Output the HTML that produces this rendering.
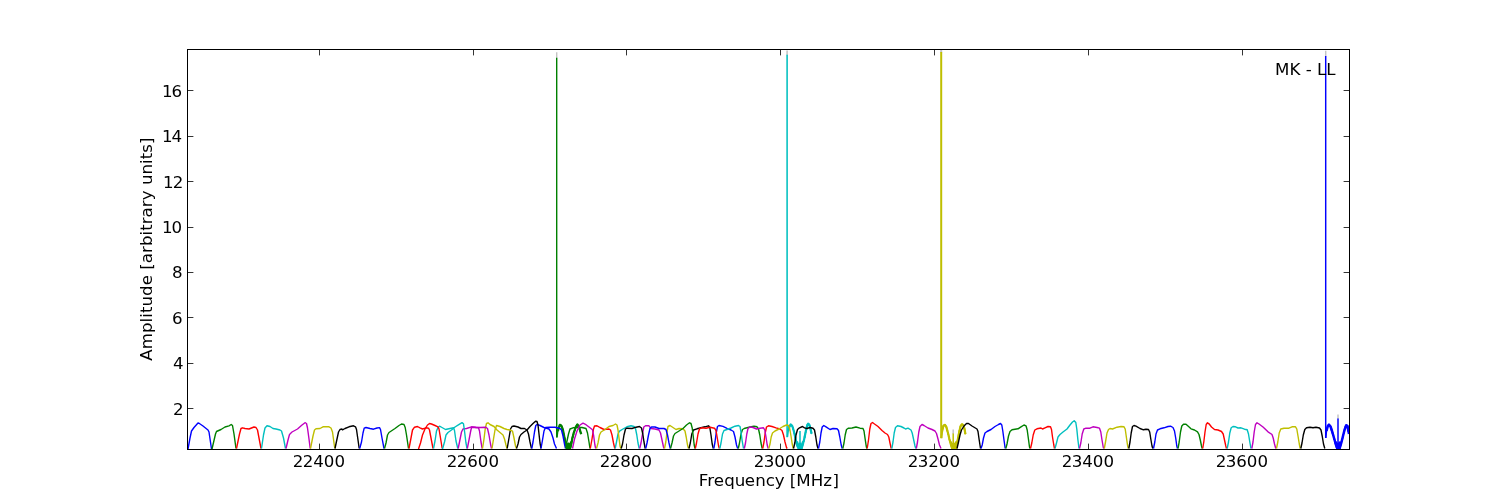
<!DOCTYPE html>
<html lang="en"><head><meta charset="utf-8"><title>MK - LL spectrum</title>
<style>html,body{margin:0;padding:0;background:#fff}body{width:1500px;height:500px;overflow:hidden}svg{display:block;will-change:transform}text{font-family:"DejaVu Sans","Liberation Sans",sans-serif;font-size:16.667px;fill:#000}</style></head><body>
<svg width="1500" height="500" viewBox="0 0 1500 500">
<rect x="0" y="0" width="1500" height="500" fill="#ffffff"/>
<defs><clipPath id="ax"><rect x="187.5" y="49.5" width="1162" height="400"/></clipPath></defs>
<g clip-path="url(#ax)" fill="none" stroke-linejoin="round" stroke-linecap="butt">
<polyline stroke="#0000ff" stroke-width="1.4" points="188.0,449.0 190.0,438.0 191.5,431.0 194.0,427.5 198.0,423.0 199.0,423.2 203.0,426.0 208.0,430.0 209.0,432.0 211.5,449.0"/>
<polyline stroke="#008000" stroke-width="1.4" points="212.0,449.0 215.5,434.0 216.5,431.5 221.0,429.5 225.0,427.0 229.0,425.8 231.2,424.5 232.5,425.5 234.0,434.0 236.0,448.5"/>
<polyline stroke="#ff0000" stroke-width="1.4" points="236.5,448.5 239.5,434.0 241.0,428.5 242.5,427.8 245.0,428.5 249.0,429.0 254.0,427.0 256.0,427.5 257.5,430.0 259.0,438.0 261.0,448.5"/>
<polyline stroke="#00bfbf" stroke-width="1.4" points="261.5,448.5 263.5,435.0 265.0,428.0 267.0,425.8 270.0,426.5 273.0,428.5 276.0,429.0 280.0,430.0 281.5,431.0 283.5,438.0 285.5,448.5"/>
<polyline stroke="#bf00bf" stroke-width="1.4" points="286.0,448.5 288.0,440.0 289.5,434.5 292.0,432.0 297.5,429.0 302.0,425.0 305.0,422.7 306.5,423.5 307.5,428.0 309.0,439.0 310.2,448.5"/>
<polyline stroke="#bfbf00" stroke-width="1.4" points="310.5,448.5 313.0,436.0 314.5,430.0 316.0,428.8 320.0,428.5 323.0,426.8 329.0,426.8 331.0,428.0 332.5,432.0 334.0,443.0 334.8,448.5"/>
<polyline stroke="#000000" stroke-width="1.4" points="335.0,448.5 337.0,439.0 338.5,432.0 340.0,429.5 342.0,429.0 342.5,429.8 345.0,428.5 349.0,426.8 353.5,425.8 355.5,426.8 356.5,429.5 358.0,440.0 359.2,448.5"/>
<polyline stroke="#0000ff" stroke-width="1.4" points="359.7,448.5 361.5,442.0 363.0,433.0 364.2,428.2 366.0,427.5 370.0,428.5 373.5,429.2 377.0,428.0 379.5,427.6 380.5,429.5 382.0,438.0 384.0,448.5"/>
<polyline stroke="#008000" stroke-width="1.4" points="384.5,448.5 386.0,443.0 387.5,435.0 389.0,432.5 392.0,430.5 395.0,428.5 399.0,425.5 401.5,424.0 404.0,424.5 405.2,427.5 406.5,435.0 408.5,448.5"/>
<polyline stroke="#ff0000" stroke-width="1.4" points="409.0,448.5 411.0,438.0 412.5,430.0 414.5,427.2 417.5,426.5 420.0,427.8 422.5,429.0 426.0,427.8 428.5,428.2 429.5,430.0 431.0,438.0 433.0,448.5"/>
<polyline stroke="#00bfbf" stroke-width="1.4" points="433.5,448.5 435.0,441.0 436.5,431.0 438.0,427.5 439.5,426.2 442.0,427.5 445.5,429.5 450.0,428.5 453.5,427.8 454.5,430.5 456.0,441.0 457.8,448.5"/>
<polyline stroke="#bf00bf" stroke-width="1.4" points="458.2,448.5 460.0,439.5 461.5,432.0 463.0,429.0 466.5,428.5 471.5,426.8 476.0,427.5 478.5,427.8 479.5,431.0 481.0,442.0 482.2,448.5"/>
<polyline stroke="#bfbf00" stroke-width="1.4" points="482.5,448.5 484.0,439.0 485.2,429.0 486.5,423.5 488.0,422.8 490.0,424.5 494.0,426.5 497.0,430.0 500.0,432.5 503.0,435.0 504.5,439.0 506.0,445.0 507.0,448.5"/>
<polyline stroke="#000000" stroke-width="1.4" points="507.2,448.5 509.0,438.0 510.5,429.0 512.0,426.5 514.0,426.0 518.0,427.0 521.0,428.5 524.5,428.5 527.0,430.0 528.5,434.0 530.0,442.0 531.5,448.5"/>
<polyline stroke="#0000ff" stroke-width="1.4" points="531.8,448.5 533.0,442.0 534.5,432.0 535.8,425.5 537.0,424.5 540.0,425.5 544.0,427.5 549.0,429.0 551.0,432.0 553.0,438.0 554.5,444.0 556.5,448.5"/>
<polyline stroke="#c4c4c4" stroke-width="1.4" points="556.7,52.3 556.7,58.2"/>
<polyline stroke="#008000" stroke-width="1.4" points="556.7,57.7 556.7,437.6"/>
<polyline stroke="#008000" stroke-width="1.4" points="557.0,437.4 557.8,431.0"/>
<polyline stroke="#008000" stroke-width="2.2" points="557.8,431.0 559.8,424.8 561.4,425.8 563.0,430.2 564.6,438.2 566.0,445.4 567.2,448.6 567.9,444.8 568.6,448.6 569.3,444.8 570.0,448.6 571.0,445.4 572.2,439.0 573.8,432.6 575.8,427.0 577.4,424.4 579.0,427.0 580.2,431.0 581.2,434.2"/>
<polyline stroke="#008000" stroke-width="1.0" points="558.3,431.2 557.3,430.3 558.7,430.3 557.8,429.4 559.0,429.3 557.8,428.4 559.3,428.3 558.4,427.5 559.7,427.4 558.7,426.5 559.9,426.4 558.9,425.6 560.4,425.5 560.1,424.3 559.9,425.8 561.2,424.9 560.9,426.0 562.3,426.0 561.3,427.0 562.7,427.0 561.5,428.0 563.1,428.0 561.9,428.9 563.3,429.0 562.4,429.9 563.8,430.0 562.4,430.8 564.0,431.0 562.8,431.8 564.0,432.1 562.7,432.9 564.1,433.1 563.1,433.8 564.5,434.1 563.4,434.8 564.8,435.0 563.3,435.9 564.9,436.1 563.8,436.8 565.0,437.1 563.8,437.8 565.4,438.1 564.0,438.9 565.6,439.1 564.4,439.8 565.8,440.1 564.5,440.9 565.9,441.2 564.6,441.9 565.9,442.2 564.8,443.0 566.1,443.2 565.0,444.0 566.3,444.3 565.4,445.0 566.6,445.2 565.7,446.1 566.9,446.3 565.9,447.2 567.3,447.4 566.2,448.4 566.6,448.5 567.8,448.2 566.6,447.4 568.1,447.1 566.8,446.3 568.3,446.0 567.0,445.2 567.1,444.9 568.7,445.2 567.6,446.0 568.8,446.3 567.6,447.1 569.1,447.4 567.9,448.2 567.9,448.5 569.3,448.2 568.0,447.4 569.4,447.1 568.2,446.3 569.9,446.0 568.7,445.2 568.8,444.9 570.1,445.2 569.0,446.0 570.2,446.3 569.2,447.1 570.3,447.4 569.2,448.2 569.4,448.4 570.8,448.3 569.7,447.3 571.2,447.2 570.2,446.3 571.5,446.1 570.5,445.3 571.6,445.0 570.4,444.3 571.8,444.0 570.5,443.3 572.2,443.1 571.0,442.3 572.2,442.1 571.1,441.3 572.6,441.1 571.4,440.4 572.7,440.1 571.4,439.4 573.0,439.2 571.6,438.3 573.0,438.2 571.8,437.3 573.5,437.2 572.0,436.3 573.6,436.2 572.5,435.4 573.8,435.2 572.7,434.4 574.2,434.3 573.1,433.5 574.2,433.2 573.1,432.4 574.7,432.3 573.6,431.4 575.1,431.4 574.0,430.4 575.5,430.3 574.2,429.3 575.9,429.3 574.5,428.2 575.9,428.2 575.1,427.3 576.3,427.3 575.6,426.3 577.0,426.5 576.0,425.3 577.4,425.6 576.5,424.4 576.8,424.8 578.1,424.6 577.5,425.5 578.9,425.3 577.9,426.5 579.2,426.3 578.4,427.2 579.9,427.3 578.6,428.2 580.2,428.3 579.1,429.1 580.4,429.3 579.4,430.2 580.9,430.3 579.4,431.2 581.1,431.3 579.9,432.3 581.3,432.4 580.4,433.3 581.6,433.5 581.2,434.2"/>
<polyline stroke="#008000" stroke-width="2.2" points="565.7,441.5 568.0,448.6 568.5,443.5 569.0,448.6 571.3,441.5"/>
<polyline stroke="#ff0000" stroke-width="1.4" points="418.5,449.0 420.5,443.0 422.5,435.0 425.0,429.0 427.5,425.0 429.5,423.5 431.5,424.0 435.0,425.5 438.0,426.8 439.0,429.0 440.5,438.0 442.2,448.5"/>
<polyline stroke="#00bfbf" stroke-width="1.4" points="442.5,449.0 444.5,442.0 446.0,435.0 448.0,432.5 451.5,430.0 455.0,427.0 459.2,424.3 462.0,422.6 463.5,423.8 464.5,431.0 465.9,442.5 467.0,448.5"/>
<polyline stroke="#bf00bf" stroke-width="1.4" points="467.3,448.5 469.0,440.0 470.5,432.0 471.5,427.5 474.0,427.2 480.0,427.5 485.5,427.2 487.5,428.5 489.0,435.0 490.5,444.0 491.5,448.5"/>
<polyline stroke="#bfbf00" stroke-width="1.4" points="492.0,448.5 493.5,439.0 495.0,430.0 496.5,425.5 500.0,426.5 504.0,428.5 507.0,429.5 510.0,430.0 512.5,431.2 514.0,438.0 515.5,446.0 516.5,448.5"/>
<polyline stroke="#000000" stroke-width="1.4" points="516.5,448.5 518.0,444.0 519.5,437.0 521.0,434.5 524.0,432.0 527.0,430.0 530.0,426.5 533.0,423.5 535.5,421.2 537.0,421.5 538.0,425.0 539.0,434.0 540.0,443.0 541.0,448.5"/>
<polyline stroke="#0000ff" stroke-width="1.4" points="541.0,448.5 542.5,440.0 544.0,431.0 545.5,427.5 550.0,427.2 555.0,427.2 560.0,428.5 561.5,430.0 563.0,436.0 564.5,444.0 565.5,448.5"/>
<polyline stroke="#008000" stroke-width="1.4" points="565.8,448.5 567.0,441.0 568.5,434.0 570.0,429.0 573.0,427.8 577.0,427.5 582.0,427.5 586.0,428.5 587.5,433.0 589.0,442.0 590.0,448.5"/>
<polyline stroke="#ff0000" stroke-width="1.4" points="590.3,448.5 592.0,439.0 593.5,429.0 594.5,426.0 597.0,425.8 600.0,427.5 604.0,429.5 609.0,429.0 610.5,430.0 612.0,435.0 613.5,443.0 614.8,448.5"/>
<polyline stroke="#00bfbf" stroke-width="1.4" points="615.2,448.5 616.5,442.0 618.0,434.0 619.5,431.2 623.0,429.0 627.0,426.8 631.0,425.8 634.0,426.5 635.5,428.5 636.8,435.0 638.0,443.0 639.2,448.5"/>
<polyline stroke="#bf00bf" stroke-width="1.4" points="639.7,448.5 641.0,443.0 642.5,434.0 643.8,427.0 645.5,425.8 649.0,425.8 651.0,428.5 655.0,429.0 659.0,430.0 660.5,433.0 662.0,440.0 663.5,447.0 664.0,448.5"/>
<polyline stroke="#bfbf00" stroke-width="1.4" points="664.5,448.5 665.8,442.0 667.0,432.0 668.0,426.5 670.0,425.5 673.0,427.5 676.0,429.5 679.0,428.5 683.0,428.8 685.0,431.0 686.2,437.0 687.5,445.0 688.5,448.5"/>
<polyline stroke="#000000" stroke-width="1.4" points="689.0,448.5 690.3,443.0 691.8,434.0 693.5,430.0 697.0,428.8 701.0,427.8 705.0,426.8 708.5,425.8 709.8,427.5 711.0,435.0 712.2,444.0 713.3,448.5"/>
<polyline stroke="#0000ff" stroke-width="1.4" points="713.8,448.5 715.0,442.0 716.2,433.0 717.5,426.5 719.0,425.5 723.0,426.4 727.0,428.3 731.0,430.0 733.5,431.5 735.0,437.0 736.5,445.0 737.7,448.5"/>
<polyline stroke="#008000" stroke-width="1.4" points="738.3,448.5 739.5,443.0 741.0,434.0 742.5,429.5 745.0,428.2 750.0,427.0 754.0,426.2 757.0,426.8 758.5,429.0 759.8,435.0 761.0,443.0 762.2,448.5"/>
<polyline stroke="#ff0000" stroke-width="1.4" points="762.7,448.5 764.0,442.0 765.2,433.0 766.5,427.0 768.5,425.8 772.0,426.5 776.0,427.8 780.0,429.0 782.0,430.5 783.5,435.0 785.0,442.0 786.5,447.5 787.2,448.5"/>
<polyline stroke="#c4c4c4" stroke-width="1.55" points="787.1,50.5 787.1,55.2"/>
<polyline stroke="#00bfbf" stroke-width="1.55" points="787.1,54.7 787.1,437.2"/>
<polyline stroke="#00bfbf" stroke-width="1.55" points="787.4,437.0 788.2,431.0"/>
<polyline stroke="#00bfbf" stroke-width="2.2" points="788.2,431.0 789.2,427.0 790.6,424.4 792.4,426.2 794.0,431.8 795.6,439.0 797.2,445.4 798.4,448.4 799.2,445.0 800.0,448.4 800.8,445.0 801.6,448.4 802.8,444.6 804.4,438.2 806.0,430.2 807.2,425.4 808.2,423.6 809.6,425.4 810.8,430.2 811.6,433.8"/>
<polyline stroke="#00bfbf" stroke-width="1.0" points="789.0,431.2 787.9,430.4 789.2,430.2 787.9,429.3 789.3,429.2 788.0,428.3 789.6,428.2 788.3,427.3 789.8,427.3 788.9,426.2 790.4,426.3 789.6,425.2 790.8,425.2 791.0,424.0 790.4,425.3 791.8,424.7 791.3,425.9 792.5,425.4 791.7,426.4 793.0,426.6 792.1,427.4 793.6,427.5 792.2,428.5 793.8,428.6 792.5,429.5 794.0,429.6 793.0,430.4 794.2,430.6 793.2,431.5 794.8,431.6 793.5,432.5 794.9,432.7 793.7,433.5 795.3,433.7 794.1,434.5 795.4,434.7 794.0,435.6 795.4,435.8 794.3,436.6 795.8,436.8 794.6,437.6 796.1,437.8 795.0,438.6 796.3,438.8 794.9,439.7 796.3,439.9 795.1,440.7 796.7,440.8 795.5,441.6 796.9,441.8 795.8,442.6 797.3,442.8 795.9,443.6 797.4,443.8 796.4,444.6 797.6,444.8 796.6,445.6 798.0,445.7 797.1,446.6 798.4,446.6 797.5,447.6 798.9,447.6 798.9,448.5 797.9,447.7 799.4,447.4 798.0,446.5 799.4,446.2 798.5,445.4 798.7,445.1 800.1,445.4 798.7,446.3 800.2,446.6 798.9,447.5 800.3,447.7 800.5,448.5 799.4,447.7 800.7,447.4 799.9,446.6 801.3,446.3 799.9,445.4 800.0,445.2 801.6,445.4 800.4,446.3 801.9,446.5 800.6,447.4 802.0,447.7 802.3,448.6 801.1,447.7 802.6,447.5 801.5,446.6 802.9,446.4 801.7,445.5 803.2,445.3 802.2,444.4 803.4,444.2 802.4,443.5 803.7,443.3 802.6,442.5 804.0,442.3 802.9,441.5 804.4,441.3 803.1,440.5 804.5,440.3 803.2,439.5 804.8,439.4 803.7,438.6 805.0,438.3 803.9,437.6 805.4,437.4 803.9,436.5 805.6,436.4 804.2,435.6 805.7,435.3 804.4,434.6 805.8,434.3 804.8,433.6 806.0,433.3 804.9,432.6 806.3,432.3 805.1,431.6 806.4,431.3 805.2,430.6 806.8,430.4 805.3,429.5 807.1,429.3 805.9,428.5 807.1,428.2 805.9,427.4 807.3,427.1 806.3,426.3 807.7,426.1 806.6,425.1 808.0,425.2 807.1,424.2 808.4,424.3 808.8,423.2 807.9,424.6 809.5,424.0 808.7,425.3 810.2,425.2 809.2,426.1 810.6,426.3 809.2,427.2 810.7,427.4 809.5,428.3 811.1,428.4 809.9,429.3 811.4,429.5 810.0,430.4 811.6,430.6 810.6,431.3 812.0,431.6 810.7,432.4 812.1,432.6 810.8,433.4 811.6,433.8"/>
<polyline stroke="#00bfbf" stroke-width="2.2" points="796.9,441.5 799.5,448.6 800.0,443.5 800.5,448.6 803.1,441.5"/>
<polyline stroke="#00bfbf" stroke-width="1.5" points="800.0,431.0 800.0,448.5"/>
<polyline stroke="#bf00bf" stroke-width="1.4" points="572.5,448.5 574.5,439.0 577.0,431.0 580.0,425.0 583.0,423.2 586.0,424.7 590.0,427.8 592.5,429.8 593.7,436.0 594.9,445.0 595.7,448.5"/>
<polyline stroke="#bfbf00" stroke-width="1.4" points="596.5,448.5 598.0,443.0 599.5,435.0 601.0,432.0 605.0,429.5 609.0,426.5 613.0,425.5 615.5,424.0 617.0,425.0 618.0,430.0 619.0,438.0 620.0,446.0 620.8,448.5"/>
<polyline stroke="#000000" stroke-width="1.4" points="621.2,448.5 622.5,444.0 624.0,435.0 625.5,429.0 627.0,428.2 632.0,428.5 636.0,427.2 639.5,426.5 641.5,428.0 642.8,434.0 644.0,442.0 645.2,448.5"/>
<polyline stroke="#0000ff" stroke-width="1.4" points="645.7,448.5 647.0,443.0 648.5,435.0 650.0,428.5 651.5,427.0 655.0,427.0 659.0,428.5 664.0,428.5 666.0,429.5 667.5,435.0 669.0,443.0 670.3,448.5"/>
<polyline stroke="#008000" stroke-width="1.4" points="670.5,448.5 672.0,443.0 673.5,436.0 675.0,433.5 679.0,431.0 683.0,428.5 686.5,425.0 689.5,422.8 691.0,423.5 692.2,428.0 693.2,436.0 694.2,445.0 695.0,448.5"/>
<polyline stroke="#ff0000" stroke-width="1.4" points="695.3,448.5 696.5,443.0 698.0,434.0 699.5,428.8 701.5,427.8 706.0,428.2 710.0,427.2 714.5,428.2 716.0,430.5 717.2,437.5 718.5,445.5 719.3,448.5"/>
<polyline stroke="#00bfbf" stroke-width="1.4" points="719.8,448.5 721.0,443.0 722.5,434.0 724.0,430.5 727.0,429.5 731.0,428.0 735.0,426.2 738.5,425.5 740.0,426.5 741.0,432.0 742.2,441.0 743.5,448.5"/>
<polyline stroke="#bf00bf" stroke-width="1.4" points="744.3,448.5 745.5,443.0 746.8,434.0 748.0,428.5 750.0,427.0 753.0,427.5 756.5,429.0 760.0,428.2 763.5,427.8 764.8,430.0 766.0,437.0 767.2,445.0 768.2,448.5"/>
<polyline stroke="#bfbf00" stroke-width="1.4" points="768.8,448.5 770.0,444.0 771.2,437.0 772.5,433.0 775.0,431.0 779.0,429.0 783.0,426.5 786.5,425.0 788.5,425.5 789.8,429.0 791.0,436.0 792.2,444.0 793.2,448.5"/>
<polyline stroke="#000000" stroke-width="1.4" points="793.5,448.5 794.8,443.0 796.0,435.0 797.5,429.5 799.5,427.8 802.5,426.5 804.5,427.8 807.0,428.5 810.0,427.5 813.0,428.2 814.5,430.0 815.8,437.0 817.0,445.0 818.0,448.5"/>
<polyline stroke="#0000ff" stroke-width="1.4" points="818.5,448.5 819.8,442.0 821.0,433.0 822.2,427.0 823.8,425.5 826.0,426.8 830.0,429.5 833.0,428.5 837.0,428.8 838.5,430.5 839.8,437.0 841.2,445.0 842.2,448.5"/>
<polyline stroke="#008000" stroke-width="1.4" points="842.8,448.5 844.0,443.0 845.2,435.0 846.5,429.5 848.5,428.2 852.0,428.0 856.0,427.0 860.0,428.2 863.0,428.5 864.0,431.0 865.0,438.0 866.2,446.0 866.8,448.5"/>
<polyline stroke="#ff0000" stroke-width="1.4" points="867.2,448.5 868.5,440.0 869.8,429.0 871.0,423.5 872.5,422.5 874.5,424.0 878.0,426.5 882.0,430.5 885.0,433.0 887.5,434.5 888.8,437.0 890.0,443.0 891.2,448.5"/>
<polyline stroke="#00bfbf" stroke-width="1.4" points="891.8,448.5 893.0,442.0 894.2,433.0 895.5,427.5 897.5,425.8 901.0,426.5 904.0,428.0 905.5,429.0 908.0,428.2 911.0,430.0 912.2,433.0 913.5,439.0 915.0,446.0 915.8,448.5"/>
<polyline stroke="#bf00bf" stroke-width="1.4" points="916.3,448.5 917.5,442.0 918.8,432.0 920.0,426.5 922.0,424.5 924.0,425.5 928.0,428.0 932.0,429.5 935.0,431.0 936.5,433.5 938.0,439.0 939.5,445.0 941.0,448.5"/>
<polyline stroke="#c4c4c4" stroke-width="2.0" points="941.2,50.0 941.2,52.5"/>
<polyline stroke="#bfbf00" stroke-width="2.0" points="941.2,52.0 941.2,438.2"/>
<polyline stroke="#bfbf00" stroke-width="2.0" points="941.4,438.2 942.2,431.0"/>
<polyline stroke="#bfbf00" stroke-width="2.2" points="942.2,431.0 943.4,425.8 944.8,424.8 946.2,426.6 947.8,432.2 949.4,439.0 951.0,445.0 952.2,448.4 953.0,445.0 954.0,448.4 955.0,445.0 955.8,448.4 957.0,443.8 958.2,437.4 959.4,431.0 960.6,426.2 962.0,424.2 963.4,425.4 964.6,429.4 965.4,434.2"/>
<polyline stroke="#bfbf00" stroke-width="1.0" points="942.8,431.1 941.7,430.3 943.0,430.1 941.8,429.3 943.2,429.0 942.1,428.2 943.7,428.1 942.4,427.2 943.7,427.0 942.5,426.2 943.8,426.4 943.4,424.8 944.7,425.7 945.4,424.3 944.5,425.7 946.1,425.3 945.3,426.5 946.9,426.4 945.7,427.3 947.2,427.4 946.0,428.3 947.5,428.4 946.4,429.3 947.7,429.5 946.5,430.4 948.1,430.5 946.8,431.4 948.1,431.6 947.2,432.4 948.5,432.6 947.5,433.4 949.0,433.6 947.6,434.4 949.1,434.7 948.0,435.5 949.2,435.7 948.1,436.5 949.6,436.7 948.5,437.6 949.9,437.8 948.7,438.6 950.0,438.9 948.7,439.7 950.1,439.9 949.1,440.7 950.7,440.8 949.6,441.6 950.9,441.8 949.8,442.7 951.0,442.9 950.1,443.6 951.3,443.8 950.1,444.7 951.6,444.8 950.7,445.7 952.1,445.7 950.8,446.7 952.4,446.7 951.2,447.7 952.5,447.8 952.9,448.6 951.6,447.7 953.3,447.5 951.8,446.5 953.5,446.3 952.2,445.4 952.3,445.2 953.8,445.3 952.8,446.1 954.2,446.2 953.0,447.1 954.2,447.3 953.1,448.1 953.4,448.2 954.7,448.1 953.7,447.3 955.1,447.1 953.9,446.3 955.4,446.2 954.3,445.3 954.3,445.2 956.0,445.4 954.7,446.3 955.9,446.6 955.0,447.4 956.1,447.7 956.5,448.6 955.5,447.8 956.9,447.6 955.7,446.7 956.9,446.5 955.9,445.7 957.1,445.5 956.0,444.6 957.4,444.4 956.3,443.7 957.7,443.4 956.5,442.7 958.0,442.5 956.6,441.7 958.2,441.5 956.8,440.7 958.3,440.5 957.3,439.8 958.5,439.5 957.3,438.8 958.6,438.5 957.6,437.8 958.8,437.5 957.8,436.8 959.1,436.6 957.8,435.8 959.2,435.5 957.9,434.8 959.5,434.6 958.3,433.9 959.4,433.6 958.2,432.8 959.6,432.6 958.6,431.9 959.9,431.6 958.7,430.8 960.3,430.7 959.1,429.8 960.6,429.6 959.2,428.7 960.8,428.5 959.6,427.6 960.9,427.4 959.7,426.5 961.3,426.7 960.6,425.4 961.8,425.5 961.0,424.3 961.6,424.6 962.8,424.2 962.6,425.4 964.1,425.2 962.8,426.1 964.3,426.2 963.2,427.1 964.6,427.2 963.4,428.1 965.1,428.2 963.8,429.1 965.3,429.3 964.0,430.0 965.6,430.3 964.3,431.1 965.5,431.4 964.3,432.2 965.8,432.5 964.5,433.3 966.1,433.5 965.4,434.2"/>
<polyline stroke="#bfbf00" stroke-width="2.2" points="950.7,441.5 952.9,448.6 953.4,443.5 953.9,448.6 956.1,441.5"/>
<polyline stroke="#c4c4c4" stroke-width="1.5" points="953.2,429.4 953.2,433.9"/>
<polyline stroke="#bfbf00" stroke-width="1.5" points="953.2,433.4 953.2,448.5"/>
<polyline stroke="#000000" stroke-width="1.4" points="957.0,448.5 958.5,442.0 960.0,435.0 961.5,430.0 964.0,426.0 966.5,423.5 968.5,423.5 972.0,426.0 977.0,429.0 978.0,431.5 979.2,440.0 980.5,448.5"/>
<polyline stroke="#0000ff" stroke-width="1.4" points="981.0,448.5 982.2,445.0 983.5,438.0 985.0,433.0 987.0,431.5 991.0,429.5 995.0,426.5 998.5,424.5 1000.5,423.5 1001.8,425.0 1002.8,431.0 1004.0,440.0 1005.2,448.5"/>
<polyline stroke="#008000" stroke-width="1.4" points="1005.8,448.5 1007.0,444.0 1008.5,436.0 1010.0,431.5 1012.0,429.8 1018.0,428.8 1021.0,426.8 1024.0,425.0 1026.0,425.8 1027.2,430.0 1028.3,438.0 1029.5,447.0 1030.0,448.5"/>
<polyline stroke="#ff0000" stroke-width="1.4" points="1030.5,448.5 1031.8,443.0 1033.2,435.0 1034.8,430.0 1037.0,428.8 1041.0,428.0 1042.5,429.0 1045.0,427.8 1048.0,426.5 1050.5,426.8 1051.5,429.5 1052.5,437.0 1053.8,445.0 1054.5,448.5"/>
<polyline stroke="#00bfbf" stroke-width="1.4" points="1055.0,448.5 1056.5,443.0 1058.0,437.0 1060.0,434.5 1063.0,432.0 1067.0,429.0 1070.0,425.0 1072.5,422.0 1074.2,420.7 1075.8,422.5 1076.8,429.0 1077.8,439.0 1079.0,448.5"/>
<polyline stroke="#bf00bf" stroke-width="1.4" points="1079.5,448.5 1080.8,443.0 1082.2,434.0 1083.8,429.0 1086.0,428.2 1090.0,428.2 1093.0,426.8 1097.0,427.5 1099.5,428.2 1100.8,432.0 1102.0,440.0 1103.3,447.5 1103.8,448.5"/>
<polyline stroke="#bfbf00" stroke-width="1.4" points="1104.3,448.5 1105.5,442.0 1107.0,433.0 1108.5,429.5 1110.0,428.5 1112.5,429.0 1117.0,427.2 1121.0,426.5 1124.0,426.8 1125.2,429.0 1126.2,436.0 1127.5,445.0 1128.3,448.5"/>
<polyline stroke="#000000" stroke-width="1.4" points="1128.8,448.5 1130.0,442.0 1131.2,433.0 1132.5,426.5 1134.0,425.5 1136.0,426.2 1140.0,428.5 1143.5,429.8 1146.0,429.2 1148.5,429.5 1149.7,432.0 1150.8,439.0 1152.0,446.0 1152.8,448.5"/>
<polyline stroke="#0000ff" stroke-width="1.4" points="1153.5,448.5 1154.8,442.0 1156.0,434.0 1157.5,430.0 1160.0,428.8 1164.0,427.8 1168.0,426.5 1170.5,426.2 1173.0,427.5 1174.5,431.0 1175.7,438.0 1176.8,446.0 1177.5,448.5"/>
<polyline stroke="#008000" stroke-width="1.4" points="1178.0,448.5 1179.2,442.0 1180.5,432.0 1181.8,426.0 1183.5,424.2 1186.0,424.2 1188.0,426.0 1191.0,428.8 1194.5,430.0 1197.5,431.8 1199.0,434.5 1200.3,440.0 1201.5,446.0 1202.2,448.5"/>
<polyline stroke="#ff0000" stroke-width="1.4" points="1202.7,448.5 1203.8,442.0 1205.0,432.0 1206.2,424.5 1207.5,422.8 1209.0,423.8 1211.5,427.0 1214.5,429.5 1218.0,430.0 1221.5,431.5 1223.2,434.0 1224.5,440.0 1225.8,446.0 1226.5,448.5"/>
<polyline stroke="#00bfbf" stroke-width="1.4" points="1227.2,448.5 1228.5,442.0 1229.8,433.0 1231.2,427.8 1233.0,426.5 1235.5,426.8 1238.0,428.0 1241.0,427.8 1244.5,429.2 1247.2,429.8 1248.5,434.0 1249.8,442.0 1251.0,448.5"/>
<polyline stroke="#bf00bf" stroke-width="1.4" points="1251.8,448.5 1253.0,442.0 1254.2,432.0 1255.5,424.5 1257.0,422.8 1259.0,424.0 1263.0,427.0 1268.0,431.8 1272.0,434.5 1273.2,438.0 1274.5,444.0 1275.8,448.5"/>
<polyline stroke="#bfbf00" stroke-width="1.4" points="1276.5,448.5 1277.8,442.0 1279.2,433.0 1280.8,429.0 1284.0,428.2 1289.0,428.2 1292.0,426.8 1295.5,426.8 1296.8,429.0 1298.0,436.0 1299.3,444.0 1300.2,448.5"/>
<polyline stroke="#000000" stroke-width="1.4" points="1300.8,448.5 1302.0,443.0 1303.3,435.0 1304.8,429.5 1306.5,427.8 1310.0,427.2 1313.0,427.8 1316.0,427.2 1319.5,428.0 1321.0,430.0 1322.2,436.0 1323.5,444.0 1324.8,448.5"/>
<polyline stroke="#c4c4c4" stroke-width="1.45" points="1325.7,50.8 1325.7,56.5"/>
<polyline stroke="#0000ff" stroke-width="1.45" points="1325.7,56.0 1325.7,438.0"/>
<polyline stroke="#0000ff" stroke-width="1.45" points="1325.8,438.0 1326.5,431.0"/>
<polyline stroke="#0000ff" stroke-width="2.5" points="1326.5,431.0 1327.8,426.0 1329.0,424.7 1330.5,426.5 1332.0,431.0 1334.0,438.0 1336.0,445.0 1337.3,448.5 1338.0,445.5 1338.7,448.5 1339.6,448.5 1341.0,444.0 1342.5,438.0 1344.5,430.0 1346.2,425.2 1347.5,426.0 1349.0,434.0"/>
<polyline stroke="#0000ff" stroke-width="1.0" points="1327.0,431.1 1325.9,430.3 1327.5,430.2 1326.2,429.3 1327.5,429.1 1326.4,428.3 1327.9,428.2 1326.8,427.3 1328.1,427.1 1327.2,426.4 1328.2,426.3 1327.7,425.1 1329.0,425.5 1329.5,424.3 1328.8,425.6 1330.3,425.2 1329.7,426.4 1331.1,426.3 1330.1,427.2 1331.3,427.3 1330.4,428.2 1331.8,428.3 1330.7,429.2 1332.2,429.3 1330.9,430.3 1332.4,430.3 1331.3,431.2 1332.9,431.3 1331.5,432.2 1333.2,432.3 1331.8,433.2 1333.3,433.3 1332.1,434.2 1333.8,434.3 1332.6,435.2 1334.1,435.3 1333.0,436.1 1334.0,436.4 1333.0,437.2 1334.4,437.3 1333.4,438.2 1334.9,438.3 1333.5,439.2 1335.2,439.3 1334.1,440.1 1335.2,440.4 1334.3,441.2 1335.6,441.3 1334.5,442.2 1335.9,442.3 1334.6,443.2 1336.1,443.3 1334.9,444.2 1336.5,444.3 1335.5,445.2 1336.6,445.3 1335.9,446.2 1337.0,446.3 1336.0,447.3 1337.6,447.3 1336.4,448.3 1336.7,448.4 1338.2,448.2 1336.9,447.4 1338.3,447.2 1337.3,446.4 1338.5,446.1 1338.8,445.3 1337.4,446.2 1338.7,446.4 1337.6,447.2 1339.3,447.3 1337.8,448.2 1338.7,447.9 1340.4,448.7 1339.3,447.9 1340.5,447.7 1339.6,446.8 1340.9,446.7 1339.9,445.8 1341.2,445.7 1340.1,444.8 1341.6,444.7 1340.3,443.8 1341.9,443.7 1340.7,442.9 1342.0,442.6 1340.9,441.8 1342.2,441.7 1341.2,440.9 1342.6,440.7 1341.3,439.8 1342.9,439.7 1341.8,438.9 1343.1,438.7 1342.0,437.9 1343.3,437.7 1342.1,436.8 1343.4,436.6 1342.4,435.8 1343.9,435.7 1342.7,434.9 1343.9,434.6 1343.0,433.9 1344.2,433.6 1343.0,432.8 1344.4,432.6 1343.5,431.9 1344.9,431.7 1343.7,430.9 1345.1,430.7 1343.9,429.8 1345.2,429.7 1344.2,428.8 1345.7,428.8 1344.6,427.9 1345.9,427.8 1344.7,426.8 1346.4,426.9 1345.1,425.9 1346.7,425.9 1346.6,424.6 1346.4,425.9 1347.4,425.2 1346.7,426.1 1348.3,426.4 1347.0,427.1 1348.5,427.4 1347.3,428.1 1348.4,428.4 1347.3,429.1 1348.8,429.4 1347.7,430.1 1349.2,430.3 1347.6,431.2 1349.1,431.4 1348.1,432.1 1349.4,432.4 1348.1,433.1 1349.7,433.4 1349.0,434.0"/>
<polyline stroke="#0000ff" stroke-width="2.2" points="1335.7,441.5 1337.3,448.6 1337.8,443.5 1338.3,448.6 1339.9,441.5"/>
<polyline stroke="#c4c4c4" stroke-width="1.5" points="1338.0,414.5 1338.0,419.0"/>
<polyline stroke="#0000ff" stroke-width="1.5" points="1338.0,418.5 1338.0,448.5"/>
</g>
<rect x="187.5" y="49.5" width="1162" height="400" fill="none" stroke="#000" stroke-width="1"/>
<g stroke="#000" stroke-width="0.8">
<line x1="319.5" y1="449.5" x2="319.5" y2="443.6" />
<line x1="319.5" y1="49.5" x2="319.5" y2="55.4" />
<line x1="473.5" y1="449.5" x2="473.5" y2="443.6" />
<line x1="473.5" y1="49.5" x2="473.5" y2="55.4" />
<line x1="626.5" y1="449.5" x2="626.5" y2="443.6" />
<line x1="626.5" y1="49.5" x2="626.5" y2="55.4" />
<line x1="780.5" y1="449.5" x2="780.5" y2="443.6" />
<line x1="780.5" y1="49.5" x2="780.5" y2="55.4" />
<line x1="934.5" y1="449.5" x2="934.5" y2="443.6" />
<line x1="934.5" y1="49.5" x2="934.5" y2="55.4" />
<line x1="1088.5" y1="449.5" x2="1088.5" y2="443.6" />
<line x1="1088.5" y1="49.5" x2="1088.5" y2="55.4" />
<line x1="1242.5" y1="449.5" x2="1242.5" y2="443.6" />
<line x1="1242.5" y1="49.5" x2="1242.5" y2="55.4" />
<line x1="187.5" y1="408.5" x2="193.4" y2="408.5" />
<line x1="1349.5" y1="408.5" x2="1343.6" y2="408.5" />
<line x1="187.5" y1="363.5" x2="193.4" y2="363.5" />
<line x1="1349.5" y1="363.5" x2="1343.6" y2="363.5" />
<line x1="187.5" y1="317.5" x2="193.4" y2="317.5" />
<line x1="1349.5" y1="317.5" x2="1343.6" y2="317.5" />
<line x1="187.5" y1="272.5" x2="193.4" y2="272.5" />
<line x1="1349.5" y1="272.5" x2="1343.6" y2="272.5" />
<line x1="187.5" y1="227.5" x2="193.4" y2="227.5" />
<line x1="1349.5" y1="227.5" x2="1343.6" y2="227.5" />
<line x1="187.5" y1="181.5" x2="193.4" y2="181.5" />
<line x1="1349.5" y1="181.5" x2="1343.6" y2="181.5" />
<line x1="187.5" y1="136.5" x2="193.4" y2="136.5" />
<line x1="1349.5" y1="136.5" x2="1343.6" y2="136.5" />
<line x1="187.5" y1="90.5" x2="193.4" y2="90.5" />
<line x1="1349.5" y1="90.5" x2="1343.6" y2="90.5" />
</g>
<g>
<text x="292.80 302.80 313.20 323.80 334.50" y="467">22400</text>
<text x="446.80 456.80 467.20 477.80 488.50" y="467">22600</text>
<text x="599.80 609.80 620.20 630.80 641.50" y="467">22800</text>
<text x="753.80 763.80 774.20 784.80 795.50" y="467">23000</text>
<text x="907.80 917.80 928.20 938.80 949.50" y="467">23200</text>
<text x="1061.80 1071.80 1082.20 1092.80 1103.50" y="467">23400</text>
<text x="1215.80 1225.80 1236.20 1246.80 1257.50" y="467">23600</text>
<text x="173.00" y="415">2</text>
<text x="173.00" y="369">4</text>
<text x="172.00" y="324">6</text>
<text x="172.00" y="278">8</text>
<text x="162.10 171.50" y="233">10</text>
<text x="163.10 172.80" y="188">12</text>
<text x="162.10 171.55" y="142">14</text>
<text x="162.10 171.40" y="97">16</text>
</g>
<text x="698.86 707.17 713.85 724.30 734.76 744.83 755.18 765.64 774.80 784.49 789.64 796.34 810.71 823.24 832.43" y="486">Frequency [MHz]</text>
<text transform="translate(152,249.1) rotate(-90)" text-anchor="middle" textLength="223.15" lengthAdjust="spacing">Amplitude [arbitrary units]</text>
<text x="1335.5" y="74.8" text-anchor="end">MK - LL</text>
</svg></body></html>
